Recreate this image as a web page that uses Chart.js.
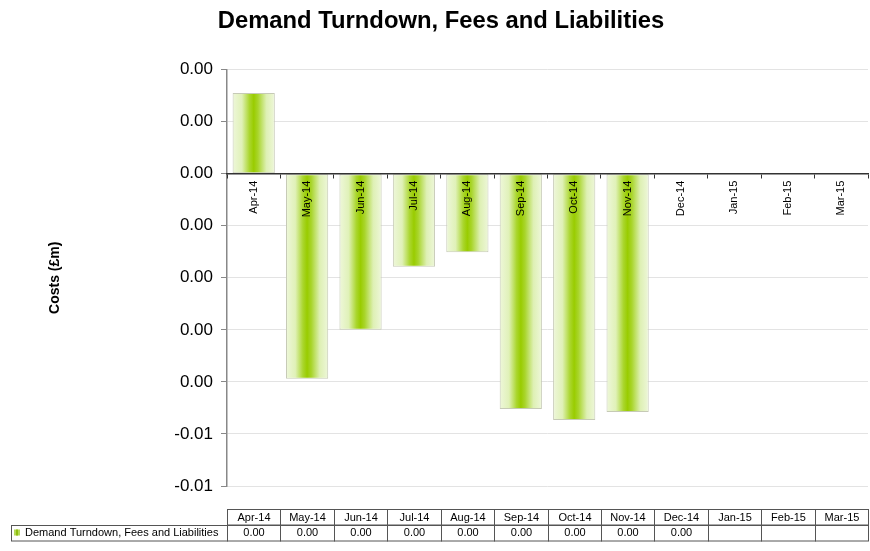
<!DOCTYPE html>
<html>
<head>
<meta charset="utf-8">
<script src="https://cdn.jsdelivr.net/npm/chart.js@4"></script>
<style>
  html, body { margin: 0; padding: 0; background: #fff; }
  #wrap { width: 870px; height: 551px; }
</style>
</head>
<body>
<div id="wrap"><canvas id="chart" width="870" height="551"></canvas></div>
<script>
const chartTitle = "Demand Turndown, Fees and Liabilities";
const seriesName = "Demand Turndown, Fees and Liabilities";
const categories = ["Apr-14", "May-14", "Jun-14", "Jul-14", "Aug-14", "Sep-14",
	"Oct-14", "Nov-14", "Dec-14", "Jan-15", "Feb-15", "Mar-15"];
// £m (all round to 0.00 in the table)
const costs = [0.00155, -0.00394, -0.0030, -0.00179, -0.00151, -0.00452,
	-0.00473, -0.00458, 0, null, null, null];
const yMin = -0.006;
const yMax = 0.002;
const yStep = 0.001;

function fmt(v) {
	if (v === null || v === undefined) return "";
	let s = v.toFixed(2);
	if (s === "-0.00") s = "0.00";
	return s;
}

// horizontal gradient across each bar
function barGradient(context) {
	const chart = context.chart;
	const xs = chart.scales.x;
	if (!xs || context.dataIndex === undefined) return "#99cc00";
	const cx = xs.getPixelForValue(context.dataIndex);
	const w = (xs.width / categories.length) * 0.79;
	if (!isFinite(cx) || !isFinite(w) || w <= 0) return "#99cc00";
	const g = chart.ctx.createLinearGradient(cx - w / 2, 0, cx + w / 2, 0);
	g.addColorStop(0, "#eef7da");
	g.addColorStop(0.22, "#e0f1b8");
	g.addColorStop(0.4, "#aad62e");
	g.addColorStop(0.5, "#99cc00");
	g.addColorStop(0.6, "#a9d52c");
	g.addColorStop(0.8, "#def0b4");
	g.addColorStop(1, "#eef7da");
	return g;
}

// data table under the plot, columns follow the x scale
const dataTable = {
	id: "dataTable",
	afterDraw(chart) {
		const ctx = chart.ctx;
		const xs = chart.scales.x;
		const area = chart.chartArea;
		const colW = (xs.right - xs.left) / categories.length;
		const top = area.bottom + 23;
		const rowH = 15.5;
		ctx.save();
		ctx.strokeStyle = "#555";
		ctx.lineWidth = 1;
		ctx.fillStyle = "#000";
		ctx.font = "11px 'Liberation Sans', Arial, sans-serif";
		ctx.textAlign = "center";
		ctx.textBaseline = "middle";
		for (let i = 0; i < categories.length; i++) {
			const x0 = Math.round(xs.left + i * colW) + 0.5;
			const x1 = Math.round(xs.left + (i + 1) * colW) + 0.5;
			ctx.strokeRect(x0, Math.round(top) + 0.5, x1 - x0, rowH);
			ctx.strokeRect(x0, Math.round(top + rowH) + 0.5, x1 - x0, rowH);
			const cx = (x0 + x1) / 2;
			ctx.fillText(categories[i], cx, top + rowH / 2 + 1);
			ctx.fillText(fmt(costs[i]), cx, top + rowH * 1.5 + 1);
		}
		// row header
		const hx = 11.5;
		const lx = Math.round(xs.left) + 0.5;
		ctx.strokeRect(hx, Math.round(top + rowH) + 0.5, lx - hx, rowH);
		ctx.fillStyle = "#b5da55";
		ctx.fillRect(14, top + rowH + 5, 6, 6);
		ctx.fillStyle = "#8fbf10";
		ctx.fillRect(16, top + rowH + 5, 2, 6);
		ctx.fillStyle = "#000";
		ctx.textAlign = "left";
		ctx.fillText(seriesName, 25, top + rowH * 1.5 + 1);
		ctx.restore();
	}
};

const ctx = document.getElementById("chart").getContext("2d");
new Chart(ctx, {
	type: "bar",
	data: {
		labels: categories,
		datasets: [{
			label: seriesName,
			data: costs,
			backgroundColor: barGradient,
			borderColor: "#c6cab6",
			borderWidth: 1,
			borderSkipped: false,
			barPercentage: 0.79,
			categoryPercentage: 1.0,
		}],
	},
	options: {
		responsive: false,
		animation: false,
		layout: {
			padding: { top: 0, left: 14, right: 2, bottom: 65 },
		},
		plugins: {
			legend: { display: false },
			tooltip: { enabled: false },
			title: {
				display: true,
				text: chartTitle,
				color: "#000",
				font: { family: "'Liberation Sans', Arial, sans-serif", size: 23.8, weight: "bold" },
				padding: { top: 7, bottom: 34 },
			},
		},
		scales: {
			x: {
				position: { y: 0 },
				grid: {
					z: 1,
					offset: true,
					drawOnChartArea: false,
					drawTicks: true,
					tickLength: 4,
					tickColor: "#333",
				},
				border: { z: 1, display: true, color: "#333", width: 1.5 },
				ticks: {
					z: 1,
					color: "#000",
					minRotation: 90,
					maxRotation: 90,
					autoSkip: false,
					padding: 3,
					font: { family: "'Liberation Sans', Arial, sans-serif", size: 11 },
				},
			},
			y: {
				min: yMin,
				max: yMax,
				afterFit(scale) { scale.width = 213; },
				ticks: {
					stepSize: yStep,
					color: "#000",
					padding: 8,
					font: { family: "'Liberation Sans', Arial, sans-serif", size: 17 },
					callback: (v) => fmt(v),
				},
				grid: {
					color: "#e3e3e3",
					lineWidth: 1,
					tickLength: 6,
					tickColor: "#888",
				},
				border: { display: true, color: "#888", width: 1.5 },
				title: {
					display: true,
					text: "Costs (£m)",
					color: "#000",
					font: { family: "'Liberation Sans', Arial, sans-serif", size: 14, weight: "bold" },
					padding: { top: 33, bottom: 0 },
				},
			},
		},
	},
	plugins: [dataTable],
});
</script>
</body>
</html>
